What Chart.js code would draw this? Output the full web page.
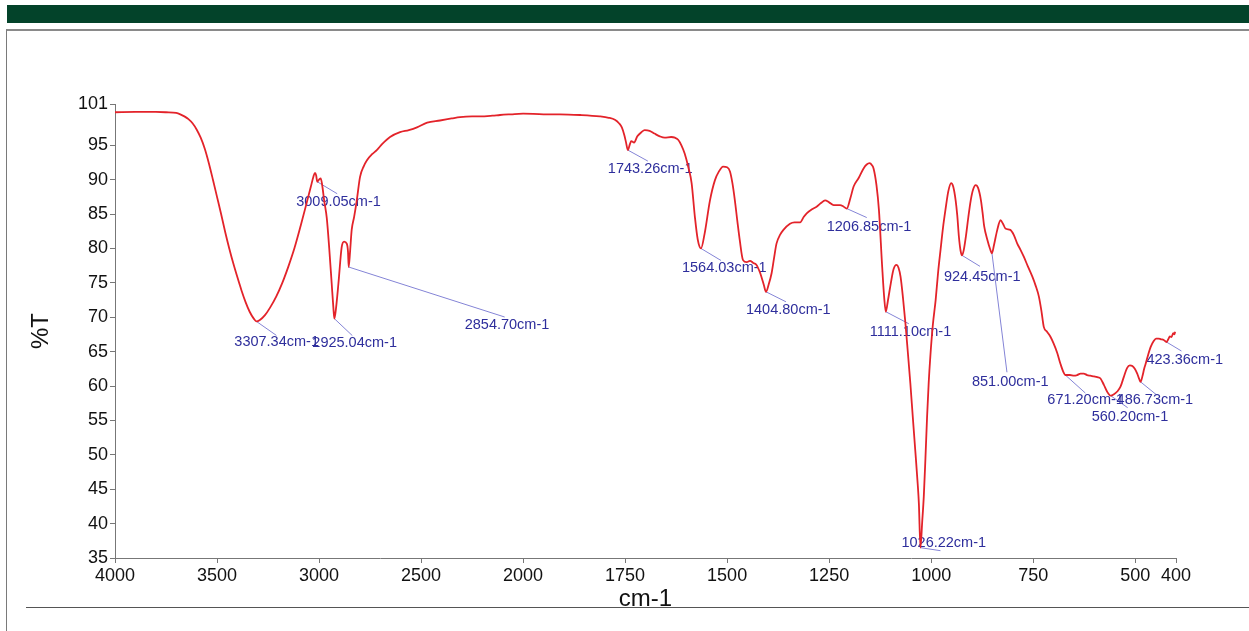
<!DOCTYPE html>
<html>
<head>
<meta charset="utf-8">
<title>FTIR spectrum</title>
<script src="https://cdn.jsdelivr.net/npm/chart.js@4.4.1/dist/chart.umd.min.js"></script>
<style>
  html, body { margin: 0; padding: 0; background: #fff; }
  body { width: 1249px; height: 631px; position: relative; overflow: hidden; }
  .band { position: absolute; left: 7px; top: 5px; width: 1242px; height: 18px; background: #03432a; }
  .frame { position: absolute; left: 6px; top: 29px; width: 1250px; height: 610px;
           border-left: 1px solid #7a7a7a; border-top: 2px solid #8a8a8a; }
  .rule { position: absolute; left: 26px; top: 607px; width: 1223px; height: 1px; background: #555; }
  #c { position: absolute; left: 0; top: 0; }
</style>
</head>
<body>
<div class="band"></div>
<div class="frame"></div>
<div class="rule"></div>
<canvas id="c" width="1249" height="631"></canvas>
<script>
// Spectrum: wavenumber (cm-1) and transmittance (%T)
const wavenumbers = [
  4000, 3900, 3800, 3750, 3700, 3680, 3660, 3640, 3620, 3600, 3580, 3560, 3540, 3520, 3500, 3480, 3460, 3440, 3420, 3400,
  3380, 3360, 3340, 3320, 3307.34, 3290, 3265, 3240, 3210, 3180, 3150, 3120, 3090, 3060, 3040, 3028, 3020, 3014, 3009.05, 3000,
  2992, 2985, 2975, 2962, 2950, 2938, 2930, 2925.04, 2918, 2905, 2889, 2877, 2864, 2858, 2854.70, 2848, 2840, 2828, 2815, 2799,
  2780, 2766, 2740, 2717, 2690, 2652, 2603, 2560, 2520, 2470, 2407, 2350, 2309, 2250, 2211, 2150, 2113, 2060, 2000, 1950,
  1910, 1860, 1812, 1790, 1775, 1765, 1758, 1752, 1748, 1743.26, 1738, 1735, 1728, 1720, 1710, 1702, 1690, 1678, 1665, 1653,
  1637, 1628, 1620, 1612, 1604, 1595, 1587, 1579, 1572, 1564.03, 1555, 1542, 1530, 1520, 1510, 1500, 1493, 1487, 1481, 1475,
  1469, 1461, 1452, 1444, 1436, 1428, 1420, 1416, 1410, 1404.80, 1398, 1391, 1385, 1379, 1370, 1362, 1346, 1335, 1321, 1312,
  1305, 1292, 1280, 1270, 1260, 1250, 1239, 1223, 1215, 1206.85, 1198, 1190, 1178, 1166, 1158, 1151, 1145, 1141, 1134, 1128,
  1120, 1115, 1111.10, 1106, 1099, 1092, 1085, 1080, 1075, 1069, 1063, 1057, 1051, 1045, 1039, 1033, 1030, 1026.22, 1022, 1018,
  1014, 1010, 1006, 1002, 996, 989, 983, 977, 971, 965, 958, 951, 946, 940, 936, 932, 928, 924.45, 920, 915,
  909, 903, 897, 891, 885, 878, 874, 870, 862, 856, 851.00, 846, 838, 830, 824, 818, 806, 797, 789, 781,
  773, 763, 752, 744, 736, 730, 724, 716, 708, 700, 691, 683, 675, 671.20, 660, 650, 642, 634, 626, 618,
  610, 601, 593, 585, 577, 569, 560.20, 552, 544, 536, 528, 520, 513, 507, 501, 495, 490, 486.73, 482, 478,
  474, 468, 462, 455, 449, 443, 437, 430, 423.36, 419, 415, 411, 407, 404, 402
];
const transmittance = [
  99.8, 99.85, 99.85, 99.8, 99.7, 99.5, 99.2, 98.8, 98.2, 97.3, 96.1, 94.5, 92.4, 90.0, 87.5, 85.0, 82.4, 80.0, 77.8, 75.8,
  73.9, 72.2, 70.8, 69.8, 69.4, 69.6, 70.3, 71.4, 73.0, 75.0, 77.4, 80.1, 83.3, 86.7, 89.0, 90.4, 91.0, 90.6, 89.7, 90.0,
  90.2, 89.3, 87.0, 84.4, 80.0, 74.9, 71.5, 69.8, 71.0, 74.9, 80.2, 81.0, 80.7, 79.5, 77.3, 79.5, 82.7, 84.6, 87.0, 90.4,
  92.0, 92.8, 93.7, 94.3, 95.2, 96.2, 96.9, 97.2, 97.6, 98.3, 98.6, 98.9, 99.1, 99.2, 99.2, 99.3, 99.4, 99.5, 99.6, 99.5,
  99.5, 99.4, 99.2, 99.0, 98.7, 98.2, 97.6, 96.5, 95.5, 94.3, 95.2, 95.6, 95.4, 96.3, 96.9, 97.2, 97.1, 96.7, 96.3, 96.1,
  96.2, 96.1, 95.8, 95.0, 93.8, 91.8, 89.5, 84.6, 81.3, 80.0, 82.2, 87.0, 89.9, 91.2, 91.9, 91.8, 91.2, 89.5, 87.0, 84.0,
  81.2, 78.3, 78.0, 78.2, 77.9, 77.6, 76.6, 75.9, 74.7, 73.7, 74.8, 76.4, 78.6, 80.7, 82.0, 82.7, 83.6, 83.8, 83.8, 84.6,
  85.1, 85.7, 86.1, 86.6, 87.0, 86.7, 86.3, 86.3, 86.1, 85.8, 87.3, 89.0, 90.2, 91.6, 92.2, 92.4, 92.1, 91.6, 89.2, 85.6,
  77.3, 72.8, 70.8, 72.4, 74.9, 77.0, 77.6, 77.2, 75.9, 72.8, 69.1, 64.8, 60.4, 55.5, 50.7, 45.8, 42.8, 36.5, 40.2, 44.0,
  49.5, 55.5, 60.5, 64.3, 68.8, 72.5, 76.5, 79.8, 83.0, 85.6, 88.3, 89.5, 89.0, 87.0, 84.8, 81.7, 79.7, 79.0, 79.8, 81.7,
  84.5, 87.0, 88.6, 89.2, 88.8, 87.0, 85.2, 83.2, 81.2, 80.0, 79.3, 80.5, 82.7, 84.1, 83.6, 82.9, 82.7, 81.9, 80.7, 79.8,
  78.8, 77.4, 75.9, 74.6, 73.0, 71.0, 68.6, 67.9, 67.2, 66.2, 64.8, 63.2, 61.9, 61.6, 61.6, 61.5, 61.6, 61.8, 61.8, 61.6,
  61.5, 61.4, 61.3, 61.1, 60.2, 59.2, 58.6, 58.8, 59.2, 59.9, 61.3, 62.6, 63.0, 62.9, 62.5, 61.8, 61.0, 60.6, 61.5, 62.5,
  63.3, 64.6, 65.7, 66.5, 66.9, 66.9, 66.8, 66.7, 66.4, 66.8, 67.2, 67.1, 67.7, 67.5, 67.9
];

// Labelled band positions (cm-1)
const peakWavenumbers = [3307.34, 3009.05, 2925.04, 2854.70, 1743.26, 1564.03, 1404.80, 1206.85,
                         1111.10, 1026.22, 924.45, 851.00, 671.20, 560.20, 486.73, 423.36];

// Axis ticks
const xTickLabels = [4000, 3500, 3000, 2500, 2000, 1750, 1500, 1250, 1000, 750, 500, 400];
const yTickLabels = [35, 40, 45, 50, 55, 60, 65, 70, 75, 80, 85, 90, 95, 101];

// Label placement relative to each band: [text dx, text dy, leader dx, leader dy]
const labelLayout = [
  [-22, 21, 20, 14], [-21, 20, 20, 12], [-22, 24, 18, 17], [116, 58, 156, 50],
  [-20, 19, 20, 11], [-19, 20, 20, 12], [-20, 18, 20, 10], [-20, 18, 20, 9],
  [-16, 20, 23, 12], [-19, -5, 20, 3], [-18, 22, 18, 11], [-20, 129, 15, 119],
  [-18, 25, 20, 18], [-19, 21, 17, 12], [-24, 18, 16, 13], [-20, 18, 15, 9]
];

// The wavenumber axis is compressed by half above 2000 cm-1
const toAxis = w => (w <= 2000 ? w : 2000 + (w - 2000) / 2);
const fromAxis = u => (u <= 2000 ? u : 2000 + (u - 2000) * 2);

const FONT = "'Liberation Sans', Arial, Helvetica, sans-serif";

const points = wavenumbers.map((w, i) => ({ x: toAxis(w), y: transmittance[i] }));

const peakLabels = {
  id: 'peakLabels',
  beforeDatasetsDraw(chart) {
    const ctx = chart.ctx;
    const xs = chart.scales.x, ys = chart.scales.y;
    ctx.save();
    ctx.font = `14.5px ${FONT}`;
    ctx.textAlign = 'left';
    ctx.textBaseline = 'middle';
    peakWavenumbers.forEach((w, i) => {
      const idx = wavenumbers.indexOf(w);
      const t = transmittance[idx];
      const px = xs.getPixelForValue(toAxis(w));
      const py = ys.getPixelForValue(t);
      const [tdx, tdy, ldx, ldy] = labelLayout[i];
      ctx.strokeStyle = '#8484d6';
      ctx.lineWidth = 1;
      ctx.beginPath();
      ctx.moveTo(px, py);
      ctx.lineTo(px + ldx, py + ldy);
      ctx.stroke();
      ctx.fillStyle = '#2e2e9c';
      ctx.fillText(w.toFixed(2) + 'cm-1', px + tdx, py + tdy);
    });
    ctx.restore();
  }
};

new Chart(document.getElementById('c'), {
  type: 'line',
  data: {
    datasets: [{
      data: points,
      borderColor: '#e3232a',
      borderWidth: 1.8,
      pointRadius: 0,
      fill: false,
      cubicInterpolationMode: 'monotone'
    }]
  },
  options: {
    responsive: false,
    animation: false,
    devicePixelRatio: 1,
    parsing: false,
    layout: { padding: { top: 104, right: 73, left: 0, bottom: 0 } },
    plugins: { legend: { display: false }, tooltip: { enabled: false } },
    scales: {
      x: {
        type: 'linear',
        reverse: true,
        min: toAxis(400),
        max: toAxis(4000),
        afterBuildTicks: s => { s.ticks = xTickLabels.map(w => ({ value: toAxis(w) })); },
        afterFit: s => { s.height = 73; },
        grid: { drawOnChartArea: false, drawTicks: true, tickLength: 5, color: '#777' },
        border: { display: true, color: '#777', width: 1 },
        ticks: {
          autoSkip: false, maxRotation: 0, padding: 2, color: '#111',
          font: { family: FONT, size: 18 },
          callback: v => String(Math.round(fromAxis(v)))
        },
        title: { display: true, text: 'cm-1', color: '#111', font: { family: FONT, size: 24 }, padding: { top: 0, bottom: 17 } }
      },
      y: {
        min: 35,
        max: 101,
        afterBuildTicks: s => { s.ticks = yTickLabels.map(v => ({ value: v })); },
        afterFit: s => { s.width = 115; },
        grid: { drawOnChartArea: false, drawTicks: true, tickLength: 5, color: '#777' },
        border: { display: true, color: '#777', width: 1 },
        ticks: { autoSkip: false, padding: 2, color: '#111', font: { family: FONT, size: 18 } },
        title: { display: true, text: '%T', color: '#111', font: { family: FONT, size: 24 }, padding: { top: 27, bottom: 0 } }
      }
    }
  },
  plugins: [peakLabels]
});
</script>
</body>
</html>
